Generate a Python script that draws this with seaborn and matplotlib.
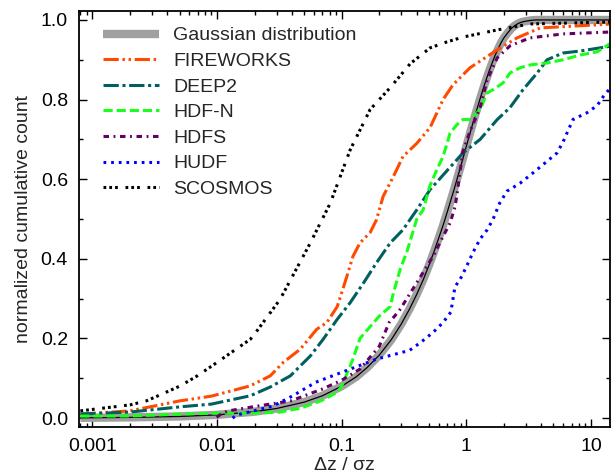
import pandas as pd
import seaborn as sns
import matplotlib.pyplot as plt
from matplotlib.ticker import LogLocator, MultipleLocator, FuncFormatter, NullFormatter

# values (x = dz / sigma_z, y = normalized cumulative count)
gauss_x = [0.0008, 0.001, 0.002, 0.005, 0.01, 0.02, 0.03, 0.05, 0.07, 0.1, 0.13, 0.16, 0.2,
           0.25, 0.3, 0.35, 0.4, 0.45, 0.5, 0.55, 0.6, 0.65, 0.7, 0.75, 0.8, 0.85, 0.9, 0.95,
           1.0, 1.1, 1.2, 1.3, 1.4, 1.5, 1.6, 1.7, 1.8, 1.9, 2.0, 2.15, 2.3, 2.45, 2.6, 2.8,
           3.0, 3.3, 3.6, 4.0, 5.0, 7.0, 10.0, 15.0]
gauss_y = [0.0006, 0.0008, 0.0016, 0.004, 0.008, 0.016, 0.024, 0.040, 0.056, 0.080, 0.103,
           0.127, 0.158, 0.197, 0.236, 0.274, 0.311, 0.347, 0.383, 0.418, 0.452, 0.484, 0.516,
           0.547, 0.576, 0.605, 0.632, 0.658, 0.683, 0.729, 0.770, 0.806, 0.838, 0.866, 0.890,
           0.911, 0.928, 0.943, 0.955, 0.968, 0.979, 0.986, 0.991, 0.995, 0.997, 0.999, 1.0,
           1.0, 1.0, 1.0, 1.0, 1.0]

fireworks_x = [0.0008, 0.002, 0.005, 0.009, 0.0185, 0.0267, 0.034, 0.0465, 0.063, 0.076, 0.092,
               0.11, 0.123, 0.14, 0.169, 0.19, 0.215, 0.26, 0.31, 0.40, 0.512, 0.65, 0.78,
               1.07, 1.77, 2.55, 3.9, 15.0]
fireworks_y = [0.010, 0.018, 0.043, 0.055, 0.081, 0.106, 0.14, 0.173, 0.223, 0.24, 0.28,
               0.356, 0.406, 0.44, 0.466, 0.498, 0.557, 0.607, 0.657, 0.69, 0.73, 0.80, 0.837,
               0.88, 0.925, 0.955, 0.98, 0.99]

deep2_x = [0.0008, 0.002, 0.005, 0.009, 0.0185, 0.0267, 0.0387, 0.056, 0.071, 0.092, 0.117,
           0.15, 0.19, 0.245, 0.31, 0.40, 0.512, 0.74, 0.94, 1.29, 1.77, 2.24, 2.85, 3.7,
           4.44, 5.97, 8.2, 15.0]
deep2_y = [0.010, 0.015, 0.028, 0.035, 0.056, 0.078, 0.106, 0.156, 0.198, 0.248, 0.29,
           0.34, 0.39, 0.44, 0.473, 0.523, 0.574, 0.63, 0.666, 0.70, 0.75, 0.78, 0.825,
           0.867, 0.90, 0.917, 0.922, 0.935]

hdfn_x = [0.0008, 0.002, 0.005, 0.009, 0.0185, 0.032, 0.047, 0.07, 0.092, 0.10, 0.123, 0.14,
          0.20, 0.245, 0.26, 0.294, 0.335, 0.40, 0.45, 0.512, 0.58, 0.65, 0.70, 0.74, 0.84,
          0.94, 1.07, 1.29, 1.47, 1.64, 1.97, 2.24, 2.7, 3.24, 4.44, 5.97, 8.2, 11.2, 15.0]
hdfn_y = [0.005, 0.005, 0.010, 0.012, 0.012, 0.015, 0.025, 0.045, 0.065, 0.08, 0.148, 0.20,
          0.256, 0.28, 0.315, 0.373, 0.42, 0.50, 0.523, 0.585, 0.624, 0.657, 0.69, 0.716,
          0.737, 0.75, 0.75, 0.775, 0.817, 0.825, 0.842, 0.867, 0.88, 0.887, 0.892, 0.90,
          0.912, 0.92, 0.945]

hdfs_x = [0.0099, 0.011, 0.0123, 0.021, 0.039, 0.07, 0.1, 0.14, 0.2, 0.24, 0.29, 0.37, 0.45,
          0.54, 0.65, 0.74, 0.81, 0.84, 0.89, 0.94, 1.07, 1.29, 1.47, 1.77, 2.24, 3.24, 6.0,
          15.0]
hdfs_y = [0.002, 0.012, 0.018, 0.03, 0.043, 0.073, 0.095, 0.123, 0.18, 0.24, 0.27, 0.323,
          0.366, 0.406, 0.456, 0.49, 0.53, 0.56, 0.62, 0.67, 0.72, 0.78, 0.85, 0.905, 0.935,
          0.955, 0.965, 0.97]

hudf_x = [0.0133, 0.0145, 0.018, 0.028, 0.04, 0.062, 0.117, 0.19, 0.35, 0.43, 0.54, 0.65,
          0.75, 0.78, 0.81, 0.89, 1.0, 1.13, 1.29, 1.47, 1.64, 1.85, 2.12, 2.7, 3.43, 4.44, 5.34,
          5.97, 7.17, 9.29, 11.2, 12.5, 15.0]
hudf_y = [0.0, 0.008, 0.015, 0.03, 0.055, 0.09, 0.123, 0.148, 0.170, 0.19, 0.215, 0.24, 0.266,
          0.298, 0.33, 0.348, 0.38, 0.416, 0.45, 0.473, 0.50, 0.54, 0.57, 0.59, 0.616, 0.645,
          0.666, 0.694, 0.75, 0.767, 0.785, 0.807, 0.837]

scosmos_x = [0.0008, 0.002, 0.0027, 0.0036, 0.005, 0.0067, 0.009, 0.0185, 0.021, 0.032, 0.056,
             0.081, 0.117, 0.169, 0.245, 0.354, 0.512, 0.7, 0.94, 1.77, 3.24, 15.0]
scosmos_y = [0.018, 0.033, 0.043, 0.06, 0.08, 0.103, 0.13, 0.198, 0.22, 0.298, 0.44, 0.54,
             0.674, 0.775, 0.83, 0.89, 0.93, 0.945, 0.957, 0.975, 0.99, 0.995]

series_names = ['FIREWORKS', 'DEEP2', 'HDF-N', 'HDFS', 'HUDF', 'SCOSMOS']
series_x = [fireworks_x, deep2_x, hdfn_x, hdfs_x, hudf_x, scosmos_x]
series_y = [fireworks_y, deep2_y, hdfn_y, hdfs_y, hudf_y, scosmos_y]

styles = {
    'FIREWORKS': dict(color='#ff4a00', linestyle=(0, (5, 1.2, 0.8, 1.2, 0.8, 1.2))),
    'DEEP2': dict(color='#006060', linestyle=(0, (5, 1.2, 1, 1.2))),
    'HDF-N': dict(color='#1aff1a', linestyle=(0, (3, 1.3))),
    'HDFS': dict(color='#640064', linestyle=(0, (1.8, 1.5, 0.6, 1.5))),
    'HUDF': dict(color='#0000ff', linestyle=(0, (0.9, 1.6))),
    'SCOSMOS': dict(color='black', linestyle=(0, (0.9, 1, 0.9, 1, 0.9, 2.5))),
}

sns.set_style('white')
plt.rcParams['font.family'] = ['Liberation Sans', 'DejaVu Sans']

fig = plt.figure(figsize=(6.14, 4.75), dpi=100)
ax = fig.add_axes([79 / 614, 48 / 475, 531 / 614, 416 / 475])
ax.set_xscale('log')

gauss = pd.DataFrame({'x': gauss_x, 'y': gauss_y})
sns.lineplot(data=gauss, x='x', y='y', ax=ax, color='#a0a0a0', linewidth=6,
             errorbar=None, label='Gaussian distribution', solid_capstyle='butt')
sns.lineplot(data=gauss, x='x', y='y', ax=ax, color='black', linewidth=0.9,
             errorbar=None, label='_nolegend_')

for name, xs, ys in zip(series_names, series_x, series_y):
    df = pd.DataFrame({'x': xs, 'y': ys})
    sns.lineplot(data=df, x='x', y='y', ax=ax, linewidth=2.2, errorbar=None,
                 label=name, **styles[name])

ax.set_xlim(0.00078, 14.2)
ax.set_ylim(-0.0225, 1.0225)

ax.xaxis.set_major_locator(LogLocator(base=10, numticks=10))
ax.xaxis.set_minor_locator(LogLocator(base=10, subs=range(2, 10), numticks=20))
ax.xaxis.set_major_formatter(FuncFormatter(lambda v, p: '%g' % v))
ax.xaxis.set_minor_formatter(NullFormatter())
ax.yaxis.set_major_locator(MultipleLocator(0.2))
ax.yaxis.set_minor_locator(MultipleLocator(0.1))
ax.yaxis.set_major_formatter(FuncFormatter(lambda v, p: '%.1f' % v))

ax.tick_params(which='both', direction='in', top=True, right=True, bottom=True, left=True,
               width=1.0, labelsize=14, colors='black')
ax.tick_params(which='major', length=6, pad=8)
ax.tick_params(which='minor', length=3)
for s in ax.spines.values():
    s.set_linewidth(1.3)
    s.set_color('black')

ax.set_xlabel('Δz / σz', fontsize=14, labelpad=1)
ax.set_ylabel('normalized cumulative count', fontsize=14, labelpad=6)

handles, labels = ax.get_legend_handles_labels()
ax.legend(handles, labels, loc='upper left', bbox_to_anchor=(0.045, 0.962), frameon=False,
          fontsize=14, handlelength=2.9, handletextpad=0.7, labelspacing=0.41,
          borderpad=0, borderaxespad=0)

fig.savefig('out.png', dpi=100)
